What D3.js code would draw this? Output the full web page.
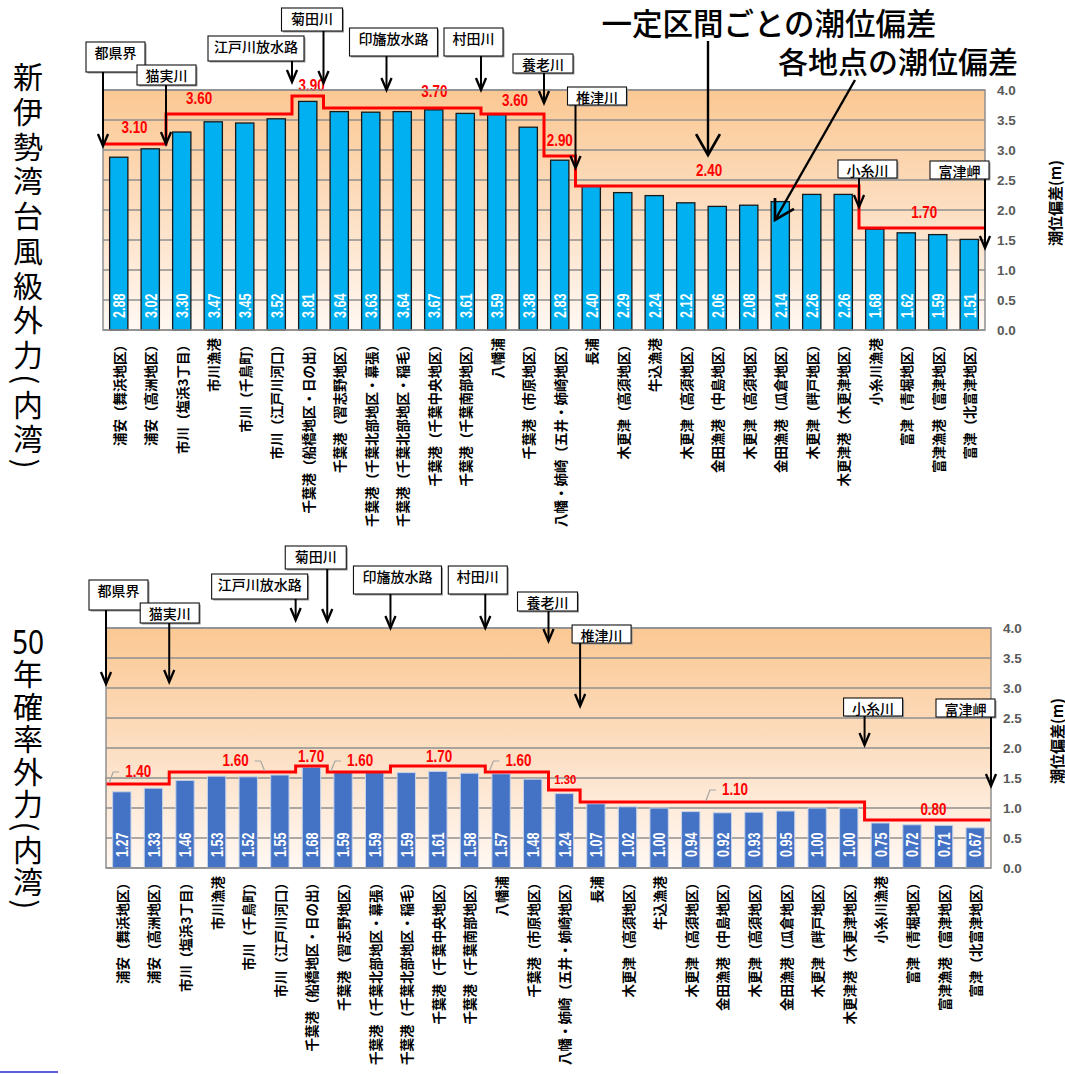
<!DOCTYPE html>
<html><head><meta charset="utf-8">
<script src="https://cdn.jsdelivr.net/npm/d3@7"></script>
<style>
html,body{margin:0;padding:0;background:#fff;}
svg{display:block;}
</style></head><body>
<svg id="c" width="1065" height="1074"></svg>
<script>
// ---------------- data ----------------
const categories = ["浦安（舞浜地区）","浦安（高洲地区）","市川（塩浜3丁目）","市川漁港","市川（千鳥町）","市川（江戸川河口）","千葉港（船橋地区・日の出）","千葉港（習志野地区）","千葉港（千葉北部地区・幕張）","千葉港（千葉北部地区・稲毛）","千葉港（千葉中央地区）","千葉港（千葉南部地区）","八幡浦","千葉港（市原地区）","八幡・姉崎（五井・姉崎地区）","長浦","木更津（高須地区）","牛込漁港","木更津（高須地区）","金田漁港（中島地区）","木更津（高須地区）","金田漁港（瓜倉地区）","木更津（畔戸地区）","木更津港（木更津地区）","小糸川漁港","富津（青堀地区）","富津漁港（富津地区）","富津（北富津地区）"];
const stormValues = [2.88,3.02,3.30,3.47,3.45,3.52,3.81,3.64,3.63,3.64,3.67,3.61,3.59,3.38,2.83,2.40,2.29,2.24,2.12,2.06,2.08,2.14,2.26,2.26,1.68,1.62,1.59,1.51];
const prob50Values = [1.27,1.33,1.46,1.53,1.52,1.55,1.68,1.59,1.59,1.59,1.61,1.58,1.57,1.48,1.24,1.07,1.02,1.00,0.94,0.92,0.93,0.95,1.00,1.00,0.75,0.72,0.71,0.67];

const stormSectionFrom = [0,2,6,7,12,14,15,24];
const stormSectionTo   = [2,6,7,12,14,15,24,28];
const stormSectionValues = [3.10,3.60,3.90,3.70,3.60,2.90,2.40,1.70];

const prob50SectionFrom = [0,2,6,7,9,12,14,15,24];
const prob50SectionTo   = [2,6,7,9,12,14,15,24,28];
const prob50SectionValues = [1.40,1.60,1.70,1.60,1.70,1.60,1.30,1.10,0.80];

const riverNames = ["都県界","猫実川","江戸川放水路","菊田川","印旛放水路","村田川","養老川","椎津川","小糸川","富津岬"];
const riverBoundary = [0,2,6,7,9,12,14,15,24,28];

const yTicks = [0,0.5,1.0,1.5,2.0,2.5,3.0,3.5,4.0];
const yAxisTitle = "潮位偏差(m)";
const titleStorm = "新伊勢湾台風級外力(内湾)";
const titleProbNum = "50";
const titleProb  = "年確率外力(内湾)";
const noteSection = "一定区間ごとの潮位偏差";
const notePoint = "各地点の潮位偏差";

// ---------------- layout (not data) ----------------
const boxDx  = [-17,-29,-84,-42,-37,-37,-31,-8,-21,-55];
const boxW   = [59,59,96,61,88,59,60,59,59,59];
const boxTop = [-48,-25,-54,-82,-62,-62,-36,-3,70,71];
const boxH   = [30,20,25,23,28,28,19,18,18,18];
const tipRel = [56,54,-8,-7,0,0,13,78,117,158];

const stormLabelAt = [1.0,3.05,6.62,10.52,13.08,14.5,19.24,26.07];
const stormLabelDy = [-16,-15,-10,-16,-13,-15,-15,-15];
const probLabelAt  = [1.02,4.10,6.49,8.04,10.54,13.05,14.53,19.9,26.18];
const probLabelDy  = [-12,-11,-9,-11,-9,-11,-10,-12,-10];
const probLeader   = ["L","R","","L","","L","","L",""];
const probSmall    = [false,false,false,false,false,false,true,false,false];

const svg = d3.select("#c");
const defs = svg.append("defs");
const grad = defs.append("linearGradient").attr("id","bg").attr("x1",0).attr("y1",0).attr("x2",0).attr("y2",1);
[[0,"#FBC893"],[0.45,"#FCDCBD"],[1,"#FFF8F3"]].forEach(([o,c])=>grad.append("stop").attr("offset",o).attr("stop-color",c));

const NUM = "'Liberation Sans', Arial, sans-serif";
const JP = "'Noto Sans CJK JP', 'Noto Sans', sans-serif";

function arrow(g,x1,y1,x2,y2,len,ang,w){
  g.append("line").attr("x1",x1).attr("y1",y1).attr("x2",x2).attr("y2",y2)
    .attr("stroke","#000").attr("stroke-width",w);
  const a = Math.atan2(y1-y2,x1-x2);
  const p1=[x2+len*Math.cos(a+ang), y2+len*Math.sin(a+ang)];
  const p2=[x2+len*Math.cos(a-ang), y2+len*Math.sin(a-ang)];
  g.append("path").attr("d",`M${p1[0]},${p1[1]}L${x2},${y2}L${p2[0]},${p2[1]}`)
    .attr("fill","none").attr("stroke","#000").attr("stroke-width",w+0.3).attr("stroke-linejoin","miter");
}

function verticalTitle(g,x,yTop,text,spacing){
  g.append("text").attr("x",x).attr("y",yTop)
    .style("writing-mode","vertical-rl")
    .attr("font-family",JP).attr("font-size",30).attr("fill","#000")
    .attr("letter-spacing",spacing).text(text);
}

function drawChart(cfg){
  const n = categories.length;
  const g = svg.append("g");
  const x = d3.scaleBand().domain(d3.range(n)).range([cfg.left,cfg.right]).paddingInner(0.42).paddingOuter(0.21);
  const bx = d3.scaleLinear().domain([0,n]).range([cfg.left,cfg.right]);
  const y = d3.scaleLinear().domain([0,4]).range([cfg.bottom,cfg.top]);
  const bw = x.bandwidth();

  g.append("rect").attr("x",cfg.left).attr("y",cfg.top).attr("width",cfg.right-cfg.left).attr("height",cfg.bottom-cfg.top).attr("fill","url(#bg)");
  g.selectAll(".grid").data(yTicks).join("line")
    .attr("x1",cfg.left).attr("x2",cfg.right).attr("y1",d=>y(d)).attr("y2",d=>y(d))
    .attr("stroke","#8f8f8f").attr("stroke-width",1.5);

  g.selectAll(".bar").data(cfg.values).join("rect")
    .attr("x",(d,i)=>x(i)).attr("y",d=>y(d)).attr("width",bw).attr("height",d=>y(0)-y(d))
    .attr("fill",cfg.barFill).attr("stroke",cfg.barStroke).attr("stroke-width",cfg.barStrokeW);

  g.selectAll(".val").data(cfg.values).join("text")
    .attr("transform",(d,i)=>`translate(${x(i)+bw/2},${y(0)-cfg.valGap}) rotate(-90) scale(0.74,1)`)
    .attr("text-anchor","start").attr("dominant-baseline","central")
    .attr("font-family",NUM).attr("font-weight","bold").attr("font-size",17).attr("fill","#fff")
    .text(d=>d.toFixed(2));

  g.selectAll(".cat").data(categories).join("text")
    .attr("transform",(d,i)=>`translate(${x(i)+bw/2},${y(0)+8}) rotate(-90)`)
    .attr("text-anchor","end").attr("dominant-baseline","central")
    .attr("font-family",JP).attr("font-weight","bold").attr("font-size",13.5).attr("fill","#000")
    .text(d=>d);

  const pts = [];
  cfg.secFrom.forEach((f,k)=>{ pts.push([bx(f),y(cfg.secVal[k])]); pts.push([bx(cfg.secTo[k]),y(cfg.secVal[k])]); });
  g.append("path").attr("d",d3.line()(pts)).attr("fill","none").attr("stroke","#FF0000").attr("stroke-width",3);

  cfg.secVal.forEach((v,k)=>{
    const lx = bx(cfg.labelAt[k]), ly = y(v)+cfg.labelDy[k];
    const fs = (cfg.small && cfg.small[k]) ? 13.5 : 16;
    const t = g.append("text").attr("transform",`translate(${lx},${ly}) scale(0.84,1)`)
      .attr("text-anchor","middle").attr("dominant-baseline","central")
      .attr("font-family",NUM).attr("font-weight","bold").attr("font-size",fs).attr("fill","#FF0000")
      .text(v.toFixed(2));
    const lead = cfg.leader ? cfg.leader[k] : "";
    if(lead){
      const hw = t.node().getComputedTextLength()*0.84/2;
      const ly2 = y(v)-1;
      let d;
      if(lead==="L"){ const e=lx-hw; d=`M${e-16},${ly2}L${e-12},${ly}L${e-6},${ly}`; }
      else { const e=lx+hw; d=`M${e+6},${ly}L${e+12},${ly}L${e+16},${ly2}`; }
      g.append("path").attr("d",d).attr("fill","none").attr("stroke","#a6a6a6").attr("stroke-width",1.2);
    }
  });

  g.append("rect").attr("x",cfg.left).attr("y",cfg.top).attr("width",cfg.right-cfg.left).attr("height",cfg.bottom-cfg.top)
    .attr("fill","none").attr("stroke","#8f8f8f").attr("stroke-width",1.5);

  g.selectAll(".tick").data(yTicks).join("text")
    .attr("x",cfg.right+12).attr("y",d=>y(d)).attr("dominant-baseline","central")
    .attr("font-family",NUM).attr("font-weight","bold").attr("font-size",13.5).attr("fill","#595959")
    .text(d=>d.toFixed(1));
  g.append("text").attr("transform",`translate(${cfg.titleX},${cfg.top+113}) rotate(-90)`)
    .attr("text-anchor","middle").attr("dominant-baseline","central")
    .attr("font-family",JP).attr("font-weight","bold").attr("font-size",15).attr("fill","#000")
    .text(yAxisTitle);

  riverNames.forEach((nm,k)=>{
    const ax = bx(riverBoundary[k]);
    const bxp = ax+boxDx[k], byp = cfg.top+boxTop[k];
    g.append("rect").attr("x",bxp+1.5).attr("y",byp+1.5).attr("width",boxW[k]).attr("height",boxH[k]).attr("fill","#9a9a9a");
    g.append("rect").attr("x",bxp).attr("y",byp).attr("width",boxW[k]).attr("height",boxH[k]).attr("fill","#fff").attr("stroke","#111").attr("stroke-width",1.1);
    g.append("text").attr("x",bxp+boxW[k]/2).attr("y",byp+10).attr("text-anchor","middle").attr("dominant-baseline","central")
      .attr("font-family",JP).attr("font-weight",500).attr("font-size",14).attr("fill","#000").text(nm);
    arrow(g,ax,byp+boxH[k],ax,cfg.top+tipRel[k],13,0.4,2);
  });
  return g;
}

const gTop = drawChart({left:103,right:985,top:90,bottom:330,values:stormValues,barFill:"#00B0F0",barStroke:"#1a1a1a",barStrokeW:1.3,valGap:12,
  secFrom:stormSectionFrom,secTo:stormSectionTo,secVal:stormSectionValues,labelAt:stormLabelAt,labelDy:stormLabelDy,
  titleX:1054});
verticalTitle(gTop,28,62,titleStorm,4.7);

const gBot = drawChart({left:106,right:991,top:628,bottom:868,values:prob50Values,barFill:"#4472C4",barStroke:"#c5d3ea",barStrokeW:1,valGap:11,
  secFrom:prob50SectionFrom,secTo:prob50SectionTo,secVal:prob50SectionValues,labelAt:probLabelAt,labelDy:probLabelDy,
  leader:probLeader,small:probSmall,
  titleX:1056});
gBot.append("text").attr("transform","translate(28,641) scale(0.85,1)").attr("text-anchor","middle").attr("dominant-baseline","central")
  .attr("font-family","'Noto Sans', sans-serif").attr("font-size",33).attr("fill","#000").text(titleProbNum);
verticalTitle(gBot,28,659,titleProb,2.5);

const ann = svg.append("g");
ann.append("text").attr("x",769).attr("y",22).attr("text-anchor","middle").attr("dominant-baseline","central")
  .attr("font-family",JP).attr("font-weight",500).attr("font-size",30.5).attr("fill","#000").text(noteSection);
ann.append("text").attr("x",898).attr("y",60).attr("text-anchor","middle").attr("dominant-baseline","central")
  .attr("font-family",JP).attr("font-weight",500).attr("font-size",30).attr("fill","#000").text(notePoint);
arrow(ann,708,41,708,155,24,0.52,2.4);
arrow(ann,855,80,775,220,22,0.52,2.4);

svg.append("line").attr("x1",0).attr("x2",58).attr("y1",1072).attr("y2",1072).attr("stroke","#2a2ad0").attr("stroke-width",1.5);
</script>
</body></html>
